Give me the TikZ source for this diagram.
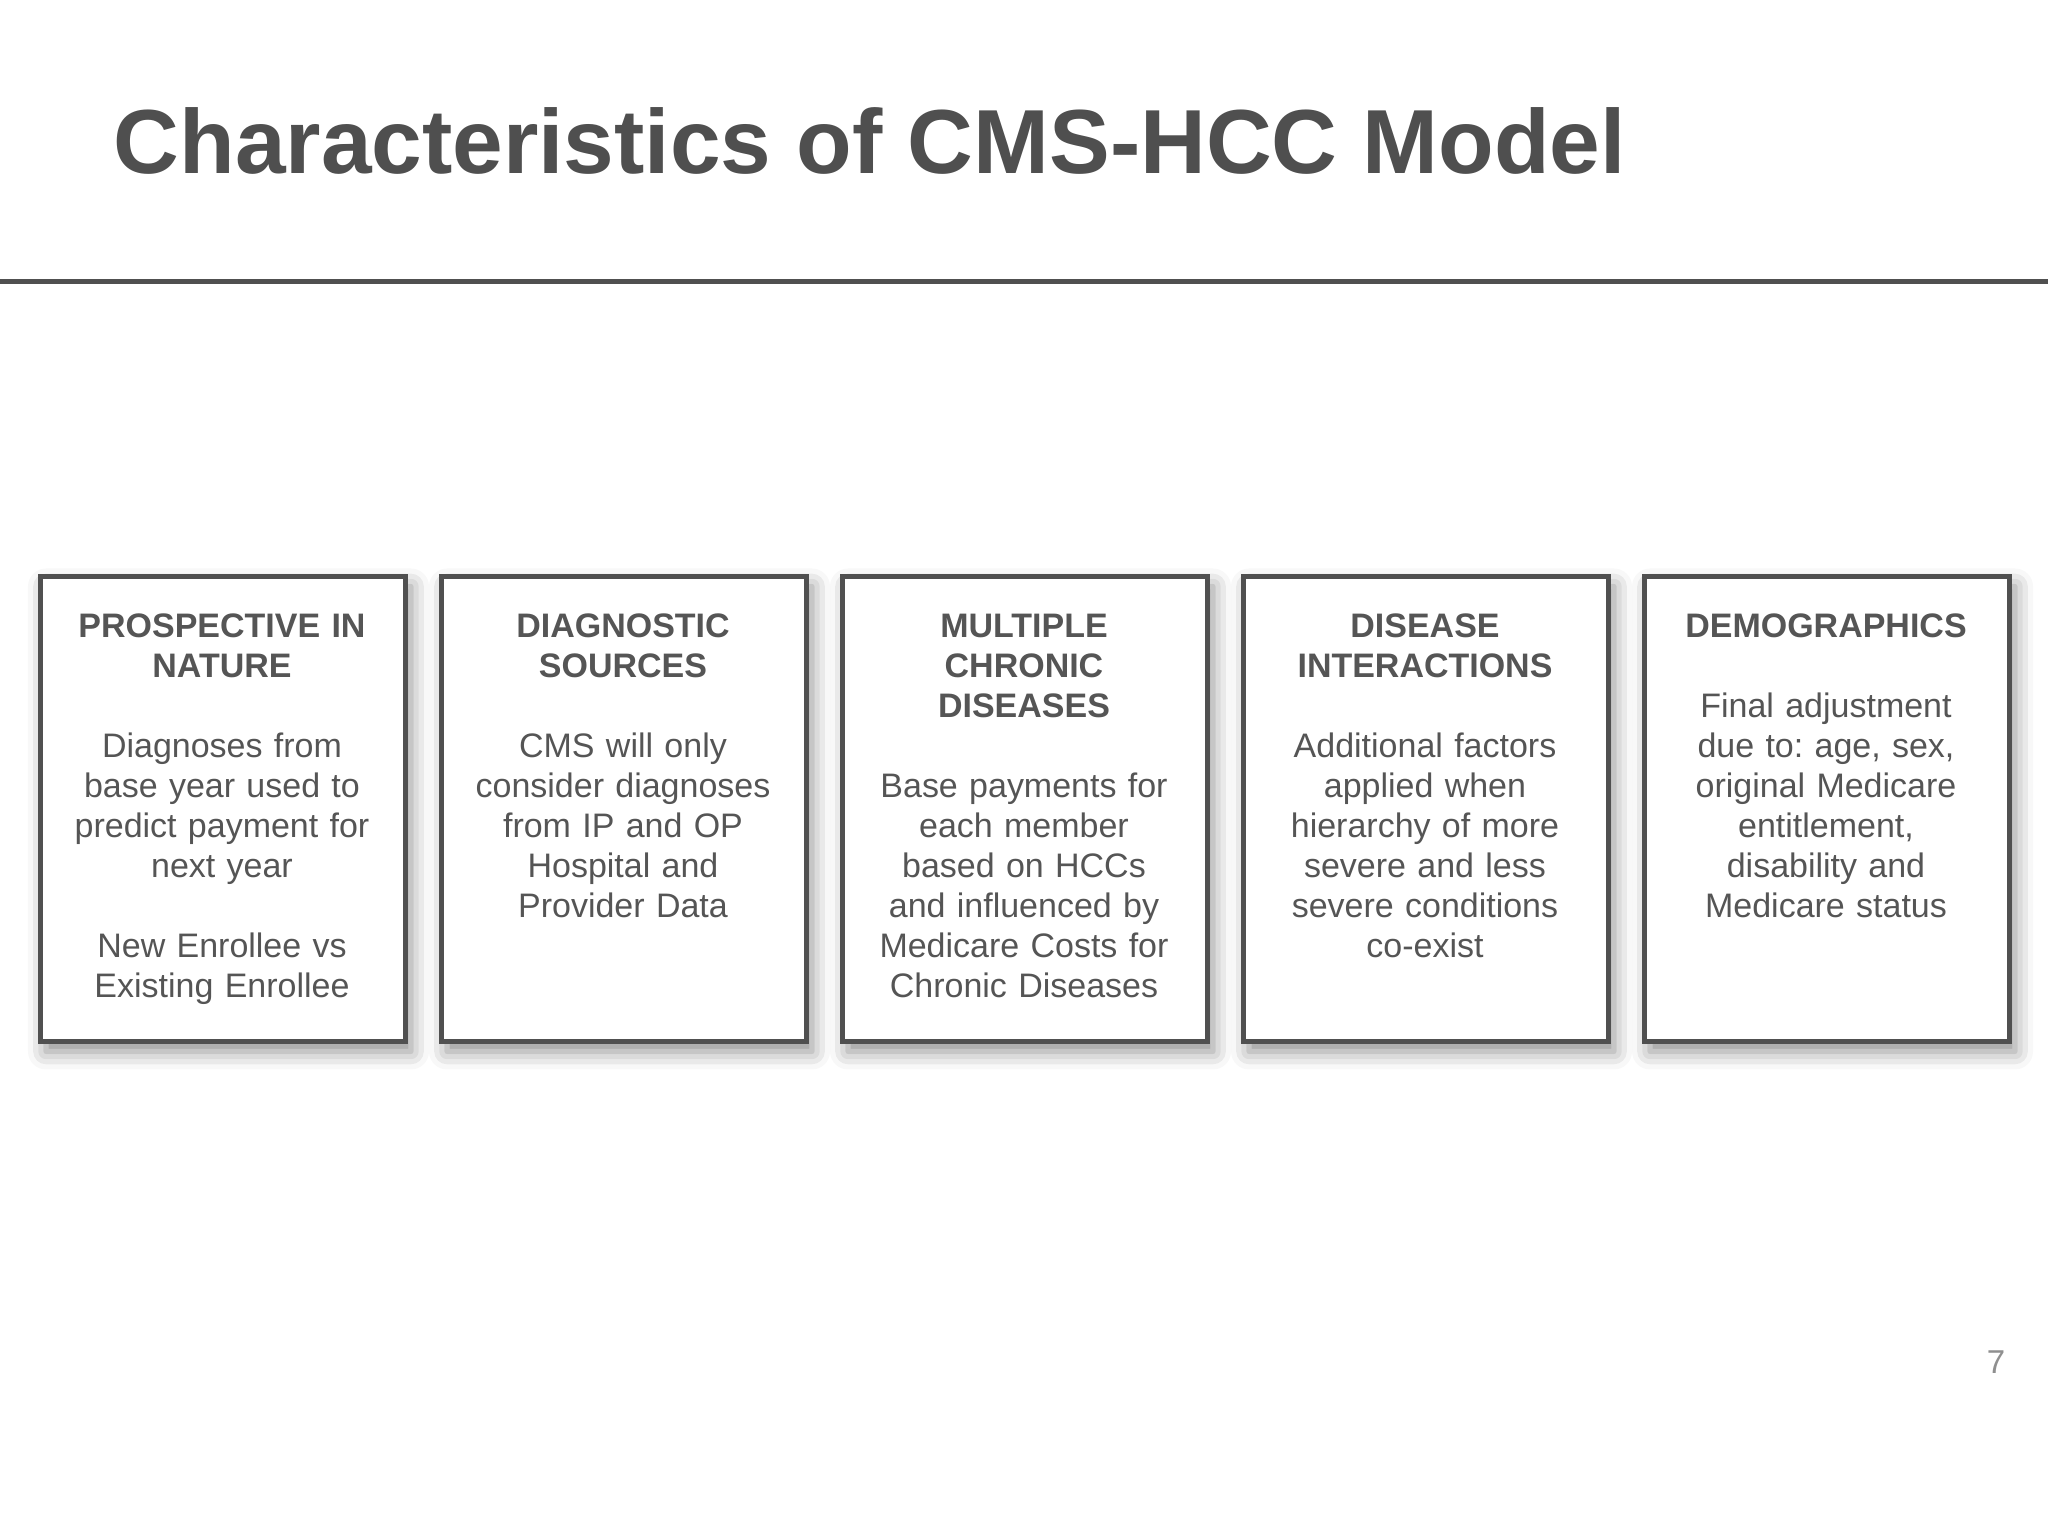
\documentclass[tikz,border=0pt]{standalone}
\usepackage{fontspec}
\setmainfont{Liberation Sans}
\usetikzlibrary{shadows.blur}
\definecolor{titlegray}{HTML}{4F4F4F}
\definecolor{boxgray}{HTML}{505050}
\definecolor{textgray}{HTML}{555555}
\definecolor{pagegray}{HTML}{8F8F8F}
\frenchspacing
\tikzset{
	box/.style={draw=boxgray, line width=0.05cm, fill=white, minimum width=3.65cm, minimum height=4.65cm,
		blur shadow={shadow xshift=0.06cm, shadow yshift=-0.1cm, shadow blur radius=0.18cm, shadow opacity=45}},
	boxtext/.style={anchor=base, inner sep=0pt, text width=3.55cm, align=center, text=textgray,
		font=\fontsize{9.67pt}{11.38pt}\selectfont}
}
\newcommand{\hd}[1]{\textbf{#1}}
\begin{document}
\begin{tikzpicture}
				\useasboundingbox (0,0) rectangle (20.48,15.36);
				\node[anchor=base west, inner sep=0pt, text=titlegray, font=\fontsize{25.9pt}{30pt}\selectfont\bfseries] (title) at (1.13,13.62) {Characteristics of CMS-HCC Model};
				\coordinate (ruleL) at (0,12.545);
				\coordinate (ruleR) at (20.48,12.545);
				\draw[boxgray, line width=0.05cm] (ruleL) -- (ruleR);
				\node[box] (prosp) at (2.225,7.27) {};
				\node[box] (diag) at (6.235,7.27) {};
				\node[box] (chronic) at (10.245,7.27) {};
				\node[box] (inter) at (14.255,7.27) {};
				\node[box] (demo) at (18.265,7.27) {};
				\node[boxtext] (prosp-txt) at (2.22,8.98) {\hd{PROSPECTIVE IN}\\\hd{NATURE}\\[0.4cm]Diagnoses from\\base year used to\\predict payment for\\next year\\[0.4cm]New Enrollee vs\\Existing Enrollee};
				\node[boxtext] (diag-txt) at (6.23,8.98) {\hd{DIAGNOSTIC}\\\hd{SOURCES}\\[0.4cm]CMS will only\\consider diagnoses\\from IP and OP\\Hospital and\\Provider Data};
				\node[boxtext] (chronic-txt) at (10.24,8.98) {\hd{MULTIPLE}\\\hd{CHRONIC}\\\hd{DISEASES}\\[0.4cm]Base payments for\\each member\\based on HCCs\\and influenced by\\Medicare Costs for\\Chronic Diseases};
				\node[boxtext] (inter-txt) at (14.25,8.98) {\hd{DISEASE}\\\hd{INTERACTIONS}\\[0.4cm]Additional factors\\applied when\\hierarchy of more\\severe and less\\severe conditions\\co-exist};
				\node[boxtext] (demo-txt) at (18.26,8.98) {\hd{DEMOGRAPHICS}\\[0.4cm]Final adjustment\\due to: age, sex,\\original Medicare\\entitlement,\\disability and\\Medicare status};
				\node[anchor=base east, inner sep=0pt, text=pagegray, font=\fontsize{9.4pt}{11pt}\selectfont] (page) at (20.06,1.62) {7};
\end{tikzpicture}
\end{document}
